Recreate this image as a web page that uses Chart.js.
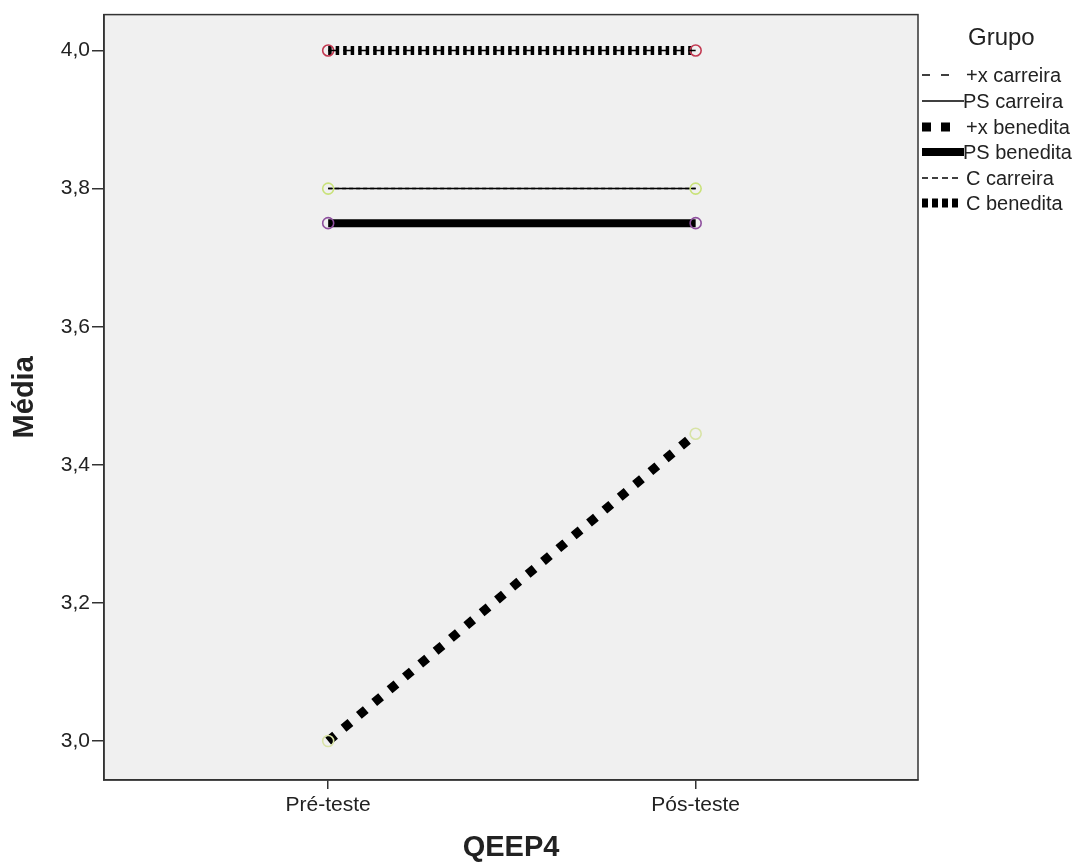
<!DOCTYPE html>
<html>
<head>
<meta charset="utf-8">
<script src="https://cdn.jsdelivr.net/npm/chart.js@4/dist/chart.umd.min.js"></script>
<style>
  html, body { margin: 0; padding: 0; background: #fff; }
  #wrap { position: relative; width: 1083px; height: 864px; }
  #c { position: absolute; left: 0; top: 0; }
  #legend { position: absolute; left: 0; top: 0; width: 1083px; height: 864px; pointer-events: none;
    font-family: "Liberation Sans", Arial, sans-serif; color: #222; }
  .lg-title { position: absolute; left: 968px; top: 22px; font-size: 24px; line-height: 30px; }
  .lg-item { position: absolute; left: 920px; height: 26px; display: flex; align-items: center; font-size: 20px; }
  .lg-item svg { flex: none; }
</style>
</head>
<body>
<div id="wrap">
  <canvas id="c" width="1083" height="864"></canvas>
  <div id="legend"></div>
</div>
<script>
// ---- data ----
const categories = ["Pré-teste", "Pós-teste"];
const groups = ["+x carreira", "PS carreira", "+x benedita", "PS benedita", "C carreira", "C benedita"];
const xCarreira = [4.00, 4.00];
const psCarreira = [3.80, 3.80];
const xBenedita = [3.00, 3.445];
const psBenedita = [3.75, 3.75];
const cCarreira = [3.80, 3.80];
const cBenedita = [4.00, 4.00];
const yTicks = [3.0, 3.2, 3.4, 3.6, 3.8, 4.0];
const seriesValues = [xCarreira, psCarreira, xBenedita, psBenedita, cCarreira, cBenedita];

// ---- styles ----
const styles = [
  { width: 1.5, dash: [8, 7], legendDash: [8, 11], legendW: 1.6, point: 'rgba(0,0,0,0)', order: 0 },
  { width: 1.5, dash: [], legendDash: [], legendW: 1.6, point: 'rgba(0,0,0,0)', order: 2 },
  { width: 9, dash: [9, 11], legendDash: [9, 10], legendW: 9, point: '#d8e3a6', order: 4 },
  { width: 8, dash: [], legendDash: [], legendW: 8, point: '#8e4f9e', order: 5 },
  { width: 1.5, dash: [4, 3], legendDash: [6, 4], legendW: 1.6, point: '#c9e27a', order: 1 },
  { width: 9, dash: [3.5, 4], legendDash: [6, 4], legendW: 9, point: '#c23a52', order: 3 }
];
const legendLen = [28, 42, 28, 43, 36, 36];

const datasets = groups.map((g, i) => ({
  label: g,
  data: seriesValues[i].map((v, j) => ({ x: j, y: v })),
  borderColor: '#000',
  borderWidth: styles[i].width,
  borderDash: styles[i].dash,
  borderCapStyle: 'butt',
  pointRadius: 5.5,
  pointBorderWidth: 1.6,
  pointBorderColor: styles[i].point,
  pointBackgroundColor: 'rgba(0,0,0,0)',
  pointHoverRadius: 5.5,
  fill: false,
  tension: 0,
  order: styles[i].order
}));

const plotBg = {
  id: 'plotBg',
  beforeDraw(chart) {
    const { ctx, chartArea: a } = chart;
    ctx.save();
    ctx.fillStyle = '#f0f0f0';
    ctx.fillRect(a.left, a.top, a.right - a.left, a.bottom - a.top);
    ctx.restore();
  },
  afterDraw(chart) {
    const { ctx, chartArea: a } = chart;
    ctx.save();
    ctx.strokeStyle = '#333';
    ctx.lineWidth = 1.5;
    ctx.strokeRect(a.left, a.top, a.right - a.left, a.bottom - a.top);
    ctx.restore();
  }
};

const tickFont = { family: '"Liberation Sans", Arial, sans-serif', size: 21 };
const titleFont = { family: '"Liberation Sans", Arial, sans-serif', size: 29, weight: 'bold' };

new Chart(document.getElementById('c'), {
  type: 'line',
  data: { datasets },
  plugins: [plotBg],
  options: {
    responsive: false,
    animation: false,
    events: [],
    layout: { padding: { top: 10, right: 165, left: 0, bottom: 0 } },
    plugins: { legend: { display: false }, tooltip: { enabled: false } },
    scales: {
      x: {
        type: 'linear',
        min: -0.61,
        max: 1.605,
        afterBuildTicks(scale) { scale.ticks = categories.map((c, i) => ({ value: i })); },
        afterFit(scale) { scale.height = 84; },
        ticks: {
          color: '#222',
          font: tickFont,
          padding: 4,
          callback: (v) => categories[v] ?? ''
        },
        grid: { display: true, drawOnChartArea: false, drawTicks: true, tickLength: 9, color: '#333', lineWidth: 1.5 },
        border: { display: true, color: '#333', width: 1.5 },
        title: { display: true, text: 'QEEP4', color: '#222', font: titleFont, padding: { top: 0, bottom: -1 } }
      },
      y: {
        type: 'linear',
        min: 2.9436,
        max: 4.052,
        afterBuildTicks(scale) { scale.ticks = yTicks.map(v => ({ value: v })); },
        afterFit(scale) { scale.width = 104; },
        ticks: {
          color: '#222',
          font: tickFont,
          padding: 2,
          callback: (v) => Number(v).toFixed(1).replace('.', ',')
        },
        grid: { display: true, drawOnChartArea: false, drawTicks: true, tickLength: 12, color: '#333', lineWidth: 1.5 },
        border: { display: true, color: '#333', width: 1.5 },
        title: { display: true, text: 'Média', color: '#222', font: titleFont, padding: { top: 8, bottom: 0 } }
      }
    }
  }
});

// ---- legend (HTML) ----
const legend = document.getElementById('legend');
const t = document.createElement('div');
t.className = 'lg-title';
t.textContent = 'Grupo';
legend.appendChild(t);
const rowY = [62, 88, 114, 139, 165, 190];
groups.forEach((g, i) => {
  const row = document.createElement('div');
  row.className = 'lg-item';
  row.style.top = rowY[i] + 'px';
  const s = styles[i];
  const svgNS = 'http://www.w3.org/2000/svg';
  const svg = document.createElementNS(svgNS, 'svg');
  svg.setAttribute('width', 44);
  svg.setAttribute('height', 14);
  const ln = document.createElementNS(svgNS, 'line');
  ln.setAttribute('x1', 2); ln.setAttribute('x2', 2 + legendLen[i]);
  ln.setAttribute('y1', 7); ln.setAttribute('y2', 7);
  ln.setAttribute('stroke', '#000');
  ln.setAttribute('stroke-width', s.legendW);
  if (s.legendDash.length) ln.setAttribute('stroke-dasharray', s.legendDash.join(' '));
  svg.appendChild(ln);
  row.appendChild(svg);
  const sp = document.createElement('span');
  sp.style.marginLeft = (legendLen[i] >= 42 ? -1 : 2) + 'px';
  sp.textContent = g;
  row.appendChild(sp);
  legend.appendChild(row);
});
</script>
</body>
</html>
